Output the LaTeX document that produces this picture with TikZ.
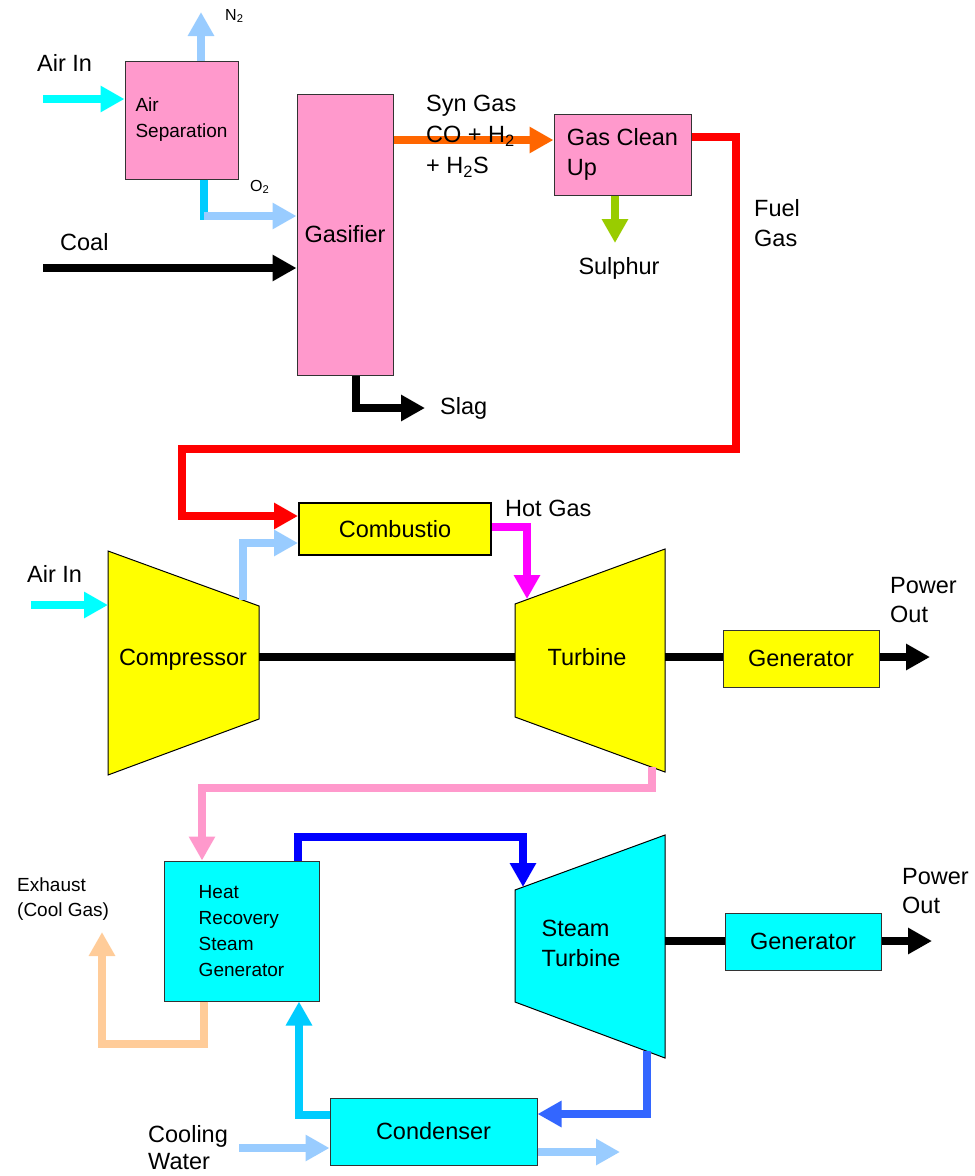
\documentclass[tikz,border=0pt]{standalone}
\usepackage{fontspec}
\setmainfont{Liberation Sans}
\usetikzlibrary{arrows.meta, positioning}

\definecolor{gaspink}{HTML}{FF99CC}
\definecolor{unityellow}{HTML}{FFFF00}
\definecolor{unitcyan}{HTML}{00FFFF}
\definecolor{airblue}{HTML}{99CCFF}
\definecolor{skyblue}{HTML}{00CCFF}
\definecolor{synorange}{HTML}{FF6600}
\definecolor{sulgreen}{HTML}{99CC00}
\definecolor{fuelred}{HTML}{FF0000}
\definecolor{hotmagenta}{HTML}{FF00FF}
\definecolor{exhpeach}{HTML}{FFCC99}
\definecolor{steamblue}{HTML}{0000FF}
\definecolor{wetblue}{HTML}{3366FF}

\begin{document}
\begin{tikzpicture}[x=1pt, y=-1pt, line join=miter,
    flow/.style={line width=8pt, -{Triangle[length=24pt, width=25pt]}},
    pipe/.style={line width=8pt},
    unit/.style={rectangle, draw=black!80, line width=1pt, inner sep=0pt, align=left},
    bigtext/.style={font=\fontsize{23.5}{30}\selectfont},
    smalltext/.style={font=\fontsize{19}{26}\selectfont},
    tinytext/.style={font=\fontsize{16}{19}\selectfont},
    txt/.style={inner sep=0pt, align=left, anchor=west}]

    \useasboundingbox (0,0) rectangle (975,1176);

    % Gasification units
    \node (AirSep) [unit, smalltext, fill=gaspink, minimum width=113pt, minimum height=118pt] at (181.5,120) {Air\\Separation};
    \node (Gasifier) [unit, bigtext, fill=gaspink, minimum width=96pt, minimum height=281pt] at (345,234.5) {Gasifier};
    \node (CleanUp) [unit, bigtext, fill=gaspink, minimum width=137pt, minimum height=81pt] at (622.5,154.5) {Gas Clean\\Up};

    % Gas turbine units
    \node (Combustor) [unit, bigtext, fill=unityellow, draw=black, line width=2pt, minimum width=192pt, minimum height=52pt] at (395,529) {Combustio};
    \node (GTGen) [unit, bigtext, fill=unityellow, minimum width=156pt, minimum height=57pt] at (801,658.5) {Generator};

    \coordinate (CompNW) at (108,551);
    \coordinate (CompNE) at (259,606);
    \coordinate (CompSE) at (259,719);
    \coordinate (CompSW) at (108,775);
    \draw [fill=unityellow, line width=1pt] (CompNW) -- (CompNE) -- (CompSE) -- (CompSW) -- cycle;
    \node (Comp) [bigtext, inner sep=0pt] at (183,660) {Compressor};

    \coordinate (TurbNW) at (515,604);
    \coordinate (TurbNE) at (665,549);
    \coordinate (TurbSE) at (665,772);
    \coordinate (TurbSW) at (515,717);
    \draw [fill=unityellow, line width=1pt] (TurbNW) -- (TurbNE) -- (TurbSE) -- (TurbSW) -- cycle;
    \node (Turb) [bigtext, inner sep=0pt] at (587,657) {Turbine};

    % Steam cycle units
    \node (HRSG) [unit, smalltext, fill=unitcyan, minimum width=155pt, minimum height=140pt] at (241.5,931) {Heat\\Recovery\\Steam\\Generator};
    \node (STGen) [unit, bigtext, fill=unitcyan, minimum width=156pt, minimum height=57pt] at (803,941.5) {Generator};
    \node (Condenser) [unit, bigtext, fill=unitcyan, minimum width=207pt, minimum height=67pt] at (433.5,1131.5) {Condenser};

    \coordinate (StNW) at (515,890);
    \coordinate (StNE) at (665,835);
    \coordinate (StSE) at (665,1058);
    \coordinate (StSW) at (515,1002);
    \draw [fill=unitcyan, line width=1pt] (StNW) -- (StNE) -- (StSE) -- (StSW) -- cycle;
    \node (SteamTurb) [bigtext, txt, anchor=center] at (581,943) {Steam\\Turbine};

    % Free ends and edge points
    \coordinate (AirIn1) at (43,99);
    \coordinate (N2Out) at (201,12);
    \coordinate (O2Bend) at (204,216);
    \coordinate (CoalIn) at (43,268);
    \coordinate (SulOut) at (615,243);
    \coordinate (SlagOut) at (425,408);
    \coordinate (AirIn2) at (31,605);
    \coordinate (CompOut) at (243,600);
    \coordinate (TurbIn) at (527,599);
    \coordinate (TurbOut) at (652,767);
    \coordinate (CompE) at (259,657);
    \coordinate (TurbW) at (515,657);
    \coordinate (TurbE) at (665,657);
    \coordinate (PowerOut1) at (930,657);
    \coordinate (StIn) at (523,887);
    \coordinate (StOut) at (647,1051);
    \coordinate (StE) at (665,941);
    \coordinate (PowerOut2) at (932,941);
    \coordinate (ExhOut) at (102,932);
    \coordinate (CWIn) at (239,1148);
    \coordinate (CWOut) at (620,1152);

    % Gasification flows
    \draw [flow, unitcyan] (AirIn1) -- (AirIn1 -| AirSep.west);
    \draw [flow, airblue] (AirSep.north -| N2Out) -- (N2Out);
    \draw [pipe, skyblue] (AirSep.south -| O2Bend) -- ([yshift=-4pt]O2Bend);
    \draw [flow, airblue] (O2Bend) -- (O2Bend -| Gasifier.west);
    \draw [flow, black] (CoalIn) -- (CoalIn -| Gasifier.west);
    \draw [flow, synorange] ([yshift=94.5pt]Gasifier.east) -- ([yshift=14.5pt]CleanUp.west);
    \draw [flow, sulgreen] (CleanUp.south -| SulOut) -- (SulOut);
    \draw [flow, black] ([xshift=11pt]Gasifier.south) |- (SlagOut);
    \draw [flow, fuelred] ([yshift=17.5pt]CleanUp.east) -| (736,449) -| (182,516) -- ([yshift=13pt]Combustor.west);

    % Gas turbine flows
    \draw [flow, unitcyan] (AirIn2) -- (AirIn2 -| CompNW);
    \draw [flow, airblue] (CompOut) |- ([yshift=-14pt]Combustor.west);
    \draw [flow, hotmagenta] ([yshift=2pt]Combustor.east) -| (TurbIn);
    \draw [pipe, black] (CompE) -- (TurbW);
    \draw [pipe, black] (TurbE) -- (TurbE -| GTGen.west);
    \draw [flow, black] (GTGen.east |- PowerOut1) -- (PowerOut1);

    % Steam cycle flows
    \draw [flow, gaspink] (TurbOut) |- (202,788) -- ([xshift=-39.5pt]HRSG.north);
    \draw [flow, steamblue] ([xshift=56pt]HRSG.north) |- (StIn |- 0,837) -- (StIn);
    \draw [pipe, black] (StE) -- (StE -| STGen.west);
    \draw [flow, black] (STGen.east |- PowerOut2) -- (PowerOut2);
    \draw [flow, wetblue] (StOut) |- ([yshift=17.5pt]Condenser.east);
    \draw [flow, skyblue] ([yshift=17pt]Condenser.west) -| ([xshift=57.5pt]HRSG.south);
    \draw [flow, exhpeach] ([xshift=-37.5pt]HRSG.south) |- (ExhOut |- 0,1044) -- (ExhOut);
    \draw [flow, airblue] (CWIn) -- (CWIn -| Condenser.west);
    \draw [flow, airblue] (CWOut -| Condenser.east) -- (CWOut);

    % Labels
    \node (AirInTxt1) [txt, bigtext] at (37,63) {Air In};
    \node (N2Txt) [txt, tinytext] at (225,16) {N\textsubscript{2}};
    \node (O2Txt) [txt, tinytext] at (250,187) {O\textsubscript{2}};
    \node (CoalTxt) [txt, bigtext] at (60,242) {Coal};
    \node (SynTxt) [txt, bigtext, font=\fontsize{23.5}{31}\selectfont] at (426,136) {Syn Gas\\CO + H\textsubscript{2}\\+ H\textsubscript{2}S};
    \node (SulTxt) [bigtext, inner sep=0pt] at (619,268) {Sulphur};
    \node (FuelTxt) [txt, bigtext] at (754,223) {Fuel\\Gas};
    \node (SlagTxt) [txt, bigtext] at (440,408) {Slag};
    \node (AirInTxt2) [txt, bigtext] at (27,574) {Air In};
    \node (HotTxt) [txt, bigtext] at (505,508) {Hot Gas};
    \node (PowerTxt1) [txt, bigtext, font=\fontsize{23.5}{29}\selectfont] at (890,600) {Power\\Out};
    \node (PowerTxt2) [txt, bigtext, font=\fontsize{23.5}{29}\selectfont] at (902,891) {Power\\Out};
    \node (ExhTxt) [txt, smalltext, font=\fontsize{19}{25}\selectfont] at (17,899) {Exhaust\\(Cool Gas)};
    \node (CWTxt) [txt, bigtext, font=\fontsize{23.5}{27}\selectfont] at (148,1148) {Cooling\\Water};

\end{tikzpicture}
\end{document}
